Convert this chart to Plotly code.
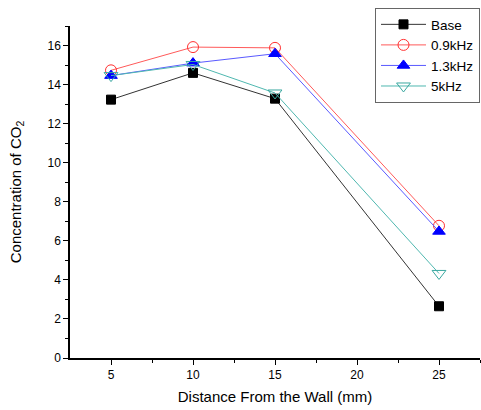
import plotly.graph_objects as go

distance = [5, 10, 15, 25]
base = [13.23, 14.6, 13.28, 2.65]
khz09 = [14.73, 15.92, 15.88, 6.77]
khz13 = [14.46, 15.1, 15.58, 6.48]
khz5 = [14.46, 15.03, 13.57, 4.33]

series = [
    ("Base", base, "#333333", "square", "#000000", 9),
    ("0.9kHz", khz09, "#ff5a5a", "circle-open", "#ff3030", 11),
    ("1.3kHz", khz13, "#5a5aff", "triangle-up", "#0000ff", 11),
    ("5kHz", khz5, "#4fb8b0", "triangle-down-open", "#3aa8a0", 12),
]

fig = go.Figure()
for name, vals, lc, sym, mc, ms in series:
    fig.add_trace(go.Scatter(
        x=distance, y=vals, name=name, mode="lines+markers",
        line=dict(color=lc, width=1),
        marker=dict(symbol=sym, color=mc, size=ms, line=dict(color=mc, width=1)),
    ))

fig.update_layout(
    width=481, height=410,
    margin=dict(l=70, r=1, t=26, b=52),
    plot_bgcolor="white", paper_bgcolor="white",
    font=dict(family="Liberation Sans, Arial", size=12, color="black"),
    showlegend=True,
    legend=dict(x=1.0, xanchor="right", y=1.054, yanchor="top",
                bordercolor="#666666", borderwidth=1, bgcolor="white",
                font=dict(size=13.5), tracegroupgap=0, itemwidth=45),
    xaxis=dict(range=[2.5, 27.5], tickvals=[5, 10, 15, 20, 25],
               showline=True, linecolor="black", linewidth=1.5,
               ticks="outside", ticklen=5, tickwidth=1, tickcolor="black",
               minor=dict(tickvals=[7.5, 12.5, 17.5, 22.5, 27.5], ticks="outside", ticklen=3, tickcolor="black"),
               showgrid=False, zeroline=False, tickfont=dict(size=12),
               title=dict(text="Distance From the Wall (mm)", font=dict(size=15), standoff=10)),
    yaxis=dict(range=[0, 17], tickvals=[0, 2, 4, 6, 8, 10, 12, 14, 16],
               showline=True, linecolor="black", linewidth=1.5,
               ticks="outside", ticklen=5, tickwidth=1, tickcolor="black",
               minor=dict(tickvals=[1, 3, 5, 7, 9, 11, 13, 15, 17], ticks="outside", ticklen=3, tickcolor="black"),
               showgrid=False, zeroline=False, tickfont=dict(size=12),
               title=dict(text="Concentration of CO<sub>2</sub>", font=dict(size=15), standoff=22)),
)

fig.write_html("out.html", config={"displayModeBar": False},
               post_script="document.body.style.margin='0';")
